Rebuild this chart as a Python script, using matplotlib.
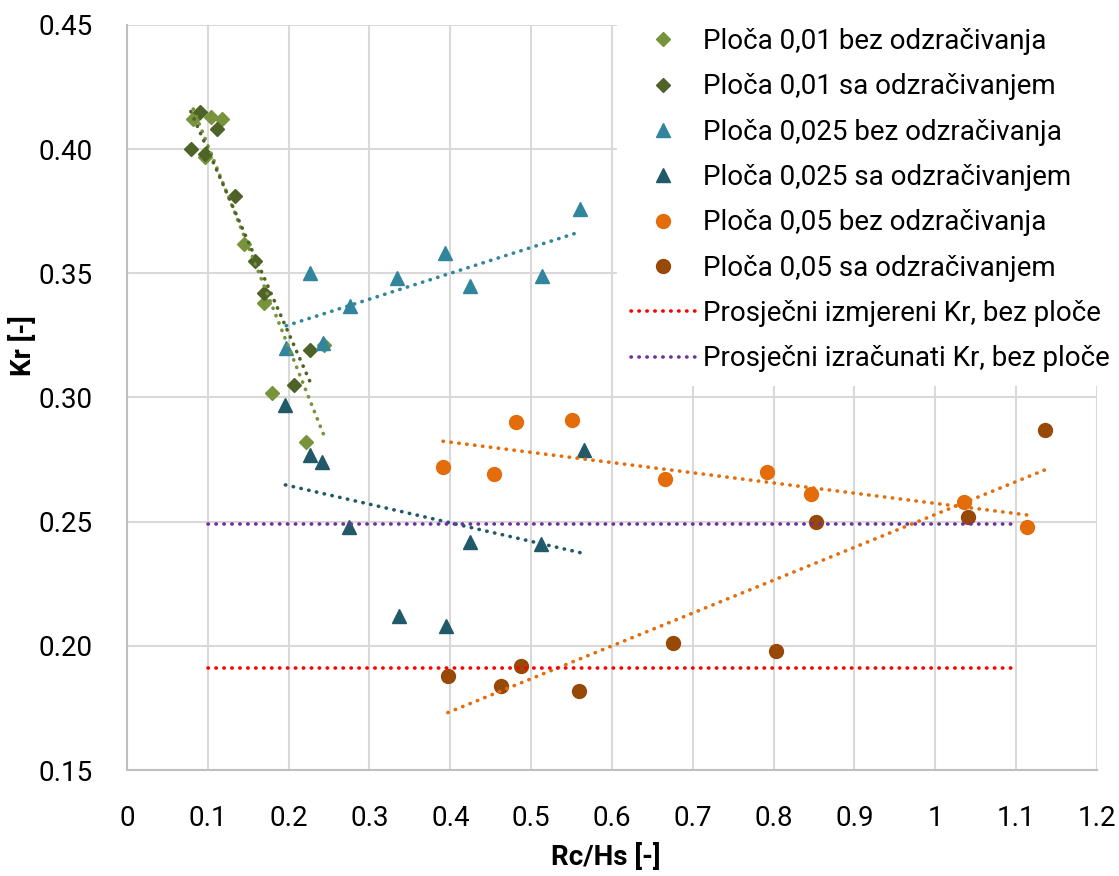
import numpy as np
import matplotlib
matplotlib.use("Agg")
import matplotlib.pyplot as plt

plt.rcParams["font.family"] = ["Roboto", "DejaVu Sans"]

# podaci ocitani sa grafika (Rc/Hs, Kr)
x_01_bez = [0.082, 0.1035, 0.118, 0.097, 0.145, 0.1695, 0.244, 0.180, 0.222]
y_01_bez = [0.412, 0.413, 0.412, 0.397, 0.362, 0.338, 0.321, 0.302, 0.282]

x_01_sa = [0.090, 0.111, 0.079, 0.097, 0.134, 0.158, 0.169, 0.227, 0.206]
y_01_sa = [0.415, 0.408, 0.400, 0.398, 0.381, 0.355, 0.342, 0.319, 0.305]

x_025_bez = [0.226, 0.197, 0.243, 0.276, 0.334, 0.394, 0.424, 0.513, 0.560]
y_025_bez = [0.350, 0.320, 0.322, 0.337, 0.348, 0.358, 0.345, 0.349, 0.376]

x_025_sa = [0.196, 0.226, 0.241, 0.275, 0.336, 0.395, 0.424, 0.512, 0.566]
y_025_sa = [0.297, 0.277, 0.274, 0.248, 0.212, 0.208, 0.242, 0.241, 0.279]

x_05_bez = [0.391, 0.454, 0.481, 0.550, 0.666, 0.792, 0.846, 1.035, 1.114]
y_05_bez = [0.272, 0.269, 0.290, 0.291, 0.267, 0.270, 0.261, 0.258, 0.248]

x_05_sa = [0.397, 0.463, 0.488, 0.559, 0.675, 0.803, 0.853, 1.040, 1.136]
y_05_sa = [0.188, 0.184, 0.192, 0.182, 0.201, 0.198, 0.250, 0.252, 0.287]

kr_izmjereni = 0.191
kr_izracunati = 0.249
x_prosjek = [0.1, 1.1]

serije = [
    ("Ploča 0,01 bez odzračivanja", x_01_bez, y_01_bez, "D", "#77933C", "#77933C", 7),
    ("Ploča 0,01 sa odzračivanjem", x_01_sa, y_01_sa, "D", "#4F6228", "#4F6228", 7),
    ("Ploča 0,025 bez odzračivanja", x_025_bez, y_025_bez, "^", "#31859C", "#31859C", 10),
    ("Ploča 0,025 sa odzračivanjem", x_025_sa, y_025_sa, "^", "#215968", "#215968", 10),
    ("Ploča 0,05 bez odzračivanja", x_05_bez, y_05_bez, "o", "#E46C0A", "#E46C0A", 10),
    ("Ploča 0,05 sa odzračivanjem", x_05_sa, y_05_sa, "o", "#984807", "#E46C0A", 10),
]

fig = plt.figure(figsize=(11.19, 8.76), dpi=100)
ax = fig.add_axes([0.1135, 0.121, 0.8668, 0.8505])

dots = (0, (0.1, 2.1))
for lab, xs, ys, mk, c, tc, ms in serije:
    ax.plot(xs, ys, linestyle="none", marker=mk, color=c, markersize=ms,
            markeredgecolor=c, label=lab, zorder=3)
    # linearni trend kao u Excelu
    k, n = np.polyfit(xs, ys, 1)
    xt = np.array([min(xs), max(xs)])
    ax.plot(xt, k * xt + n, linestyle=dots, color=tc, linewidth=2.6,
            dash_capstyle="round", label="_nolegend_", zorder=4)

ax.plot(x_prosjek, [kr_izmjereni] * 2, linestyle=dots, color="#FF0000", linewidth=2.6,
        dash_capstyle="round", label="Prosječni izmjereni Kr, bez ploče", zorder=4)
ax.plot(x_prosjek, [kr_izracunati] * 2, linestyle=dots, color="#7030A0", linewidth=2.6,
        dash_capstyle="round", label="Prosječni izračunati Kr, bez ploče", zorder=4)

ax.set_xlim(0, 1.2)
ax.set_ylim(0.15, 0.45)
ax.set_xticks(np.arange(0, 1.21, 0.1))
ax.set_xticklabels(["0", "0.1", "0.2", "0.3", "0.4", "0.5", "0.6", "0.7", "0.8", "0.9", "1", "1.1", "1.2"])
ax.set_yticks(np.arange(0.15, 0.451, 0.05))
ax.set_yticklabels(["%.2f" % v for v in np.arange(0.15, 0.451, 0.05)])
ax.tick_params(length=0, labelsize=20, pad=25)
ax.grid(True, color="#D9D9D9", linewidth=1.5)
ax.set_axisbelow(True)
for s in ["top", "right"]:
    ax.spines[s].set_visible(False)
for s in ["left", "bottom"]:
    ax.spines[s].set_color("#BFBFBF")
    ax.spines[s].set_linewidth(1.5)

ax.set_xlabel("Rc/Hs [-]", fontsize=20, fontweight="bold")
ax.set_ylabel("Kr [-]", fontsize=20, fontweight="bold")
ax.xaxis.set_label_coords(0.494, -0.098)
ax.yaxis.set_label_coords(-0.093, 0.57)

leg = ax.legend(loc="upper left", bbox_to_anchor=(0.5514, 0.984), bbox_transform=fig.transFigure,
                fontsize=20, frameon=True, facecolor="white", edgecolor="none", framealpha=1,
                fancybox=False, borderpad=0.5, handlelength=2.3, handletextpad=0.3,
                labelspacing=0.66, borderaxespad=0)
leg.set_zorder(10)

fig.savefig("out.png", dpi=100)
